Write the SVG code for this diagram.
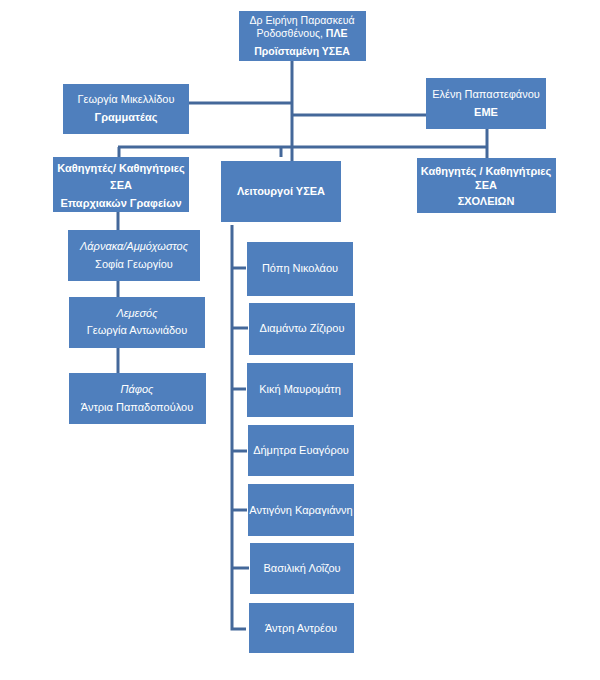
<svg xmlns="http://www.w3.org/2000/svg" width="600" height="680" viewBox="0 0 600 680">
<style>
.box{fill:#4f7fbd}
.t{font-family:"Liberation Sans",Arial,sans-serif;font-size:11px;fill:#ffffff;text-anchor:middle}
.b{font-weight:bold}
.i{font-style:italic}
.s{font-size:10.5px}
.c{stroke:#44689a;stroke-width:3;fill:none}
</style>
<rect width="600" height="680" fill="#ffffff"/>
<g id="connectors">
<path class="c" d="M292 61V161"/>
<path class="c" d="M189 103H292"/>
<path class="c" d="M292 115H426"/>
<path class="c" d="M118 147H487"/>
<path class="c" d="M119 147V157"/>
<path class="c" d="M281 147V157"/>
<path class="c" d="M487 129V158"/>
<path class="c" d="M118 212V230"/>
<path class="c" d="M118 281V297"/>
<path class="c" d="M118 348V373"/>
<path class="c" d="M232 225V629H246"/>
<path class="c" d="M232 268H246"/>
<path class="c" d="M232 328H248"/>
<path class="c" d="M232 389H246"/>
<path class="c" d="M232 451H247"/>
<path class="c" d="M232 510H247"/>
<path class="c" d="M232 568H249"/>
</g>
<g id="top">
<rect class="box" x="239" y="11" width="127" height="50"/>
<text class="t s" x="302" y="24">Δρ Ειρήνη Παρασκευά</text>
<text class="t s" x="302" y="37">Ροδοσθένους, <tspan class="b">ΠΛΕ</tspan></text>
<text class="t b s" x="302" y="55">Προϊσταμένη ΥΣΕΑ</text>
</g>
<g id="georgia">
<rect class="box" x="63" y="84" width="126" height="50"/>
<text class="t" x="126" y="103">Γεωργία Μικελλίδου</text>
<text class="t b" x="126" y="121">Γραμματέας</text>
</g>
<g id="eleni">
<rect class="box" x="426" y="78" width="120" height="51"/>
<text class="t" x="486" y="98">Ελένη Παπαστεφάνου</text>
<text class="t b" x="486" y="116">ΕΜΕ</text>
</g>
<g id="kathigites-eparxia">
<rect class="box" x="53" y="157" width="136" height="55"/>
<text class="t b" x="121" y="172">Καθηγητές/ Καθηγήτριες</text>
<text class="t b" x="121" y="189">ΣΕΑ</text>
<text class="t b" x="121" y="207">Επαρχιακών Γραφείων</text>
</g>
<g id="leitourgoi">
<rect class="box" x="221" y="161" width="120" height="61"/>
<text class="t b" x="281" y="195">Λειτουργοί ΥΣΕΑ</text>
</g>
<g id="kathigites-sxoleia">
<rect class="box" x="417" y="158" width="139" height="55"/>
<text class="t b" x="486" y="175">Καθηγητές / Καθηγήτριες</text>
<text class="t b" x="486" y="189">ΣΕΑ</text>
<text class="t b" x="486" y="205">ΣΧΟΛΕΙΩΝ</text>
</g>
<g id="larnaka">
<rect class="box" x="68" y="230" width="132" height="51"/>
<text class="t i" x="134" y="250">Λάρνακα/Αμμόχωστος</text>
<text class="t" x="134" y="268">Σοφία Γεωργίου</text>
</g>
<g id="lemesos">
<rect class="box" x="69" y="297" width="136" height="51"/>
<text class="t i" x="137" y="317">Λεμεσός</text>
<text class="t" x="137" y="334">Γεωργία Αντωνιάδου</text>
</g>
<g id="pafos">
<rect class="box" x="69" y="373" width="137" height="51"/>
<text class="t i" x="137" y="393">Πάφος</text>
<text class="t" x="137" y="411">Άντρια Παπαδοπούλου</text>
</g>
<g id="popi">
<rect class="box" x="247" y="242" width="106" height="54"/>
<text class="t" x="300" y="272">Πόπη Νικολάου</text>
</g>
<g id="diamanto">
<rect class="box" x="249" y="303" width="106" height="52"/>
<text class="t" x="302" y="332">Διαμάντω Ζίζιρου</text>
</g>
<g id="kiki">
<rect class="box" x="247" y="363" width="106" height="54"/>
<text class="t" x="300" y="393">Κική Μαυρομάτη</text>
</g>
<g id="dimitra">
<rect class="box" x="248" y="425" width="106" height="51"/>
<text class="t" x="301" y="454">Δήμητρα Ευαγόρου</text>
</g>
<g id="antigoni">
<rect class="box" x="248" y="484" width="106" height="52"/>
<text class="t" x="301" y="514">Αντιγόνη Καραγιάννη</text>
</g>
<g id="vasiliki">
<rect class="box" x="250" y="543" width="104" height="51"/>
<text class="t" x="302" y="572">Βασιλική Λοΐζου</text>
</g>
<g id="antri">
<rect class="box" x="249" y="603" width="105" height="50"/>
<text class="t" x="301" y="632">Άντρη Αντρέου</text>
</g>
</svg>
